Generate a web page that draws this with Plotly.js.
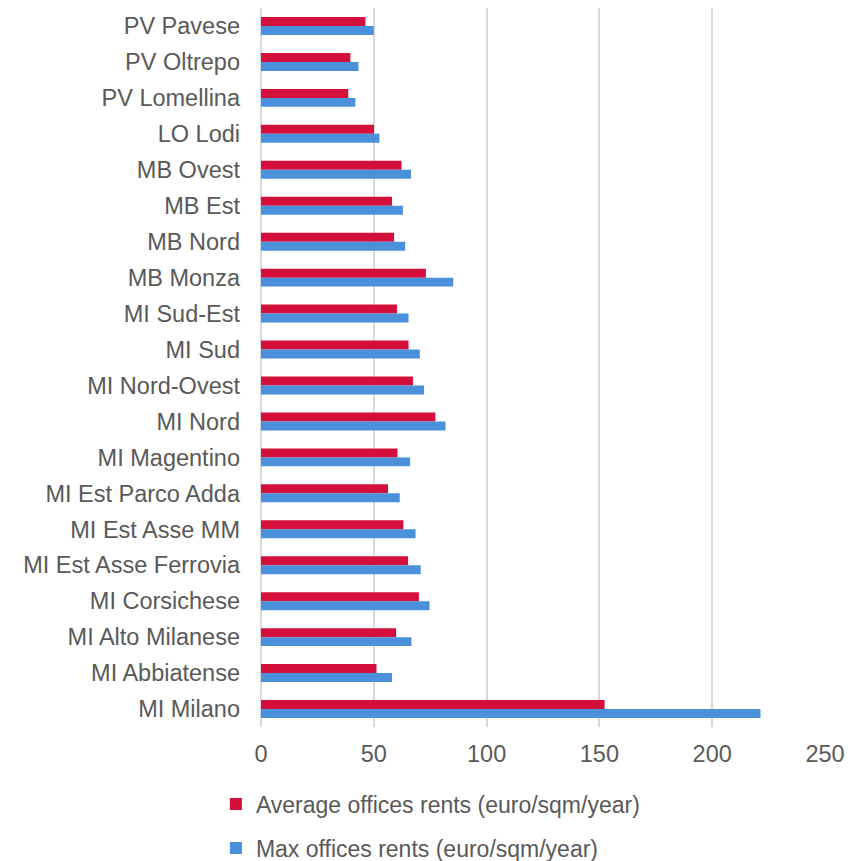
<!DOCTYPE html>
<html>
<head>
<meta charset="utf-8">
<script src="https://cdn.plot.ly/plotly-3.0.1.min.js"></script>
<style>html,body{margin:0;padding:0;background:#fff;}#chart{width:858px;height:861px;}</style>
</head>
<body>
<div id="chart"></div>
<script>
const categories = ["PV Pavese","PV Oltrepo","PV Lomellina","LO Lodi","MB Ovest","MB Est","MB Nord","MB Monza","MI Sud-Est","MI Sud","MI Nord-Ovest","MI Nord","MI Magentino","MI Est Parco Adda","MI Est Asse MM","MI Est Asse Ferrovia","MI Corsichese","MI Alto Milanese","MI Abbiatense","MI Milano"];
const avgRents = [46.3,39.6,38.7,50.1,62.3,58.1,59.0,73.1,60.3,65.4,67.4,77.3,60.5,56.3,63.1,65.2,70.0,59.9,51.2,152.3];
const maxRents = [50.0,43.2,41.8,52.5,66.5,62.9,63.9,85.2,65.4,70.4,72.3,81.8,66.1,61.5,68.5,70.8,74.7,66.7,58.1,221.4];
const seriesNames = ["Average offices rents (euro/sqm/year)","Max offices rents (euro/sqm/year)"];
const xTicks = [0,50,100,150,200,250];

const font = {family: "Liberation Sans, Arial, sans-serif", size: 23.5, color: "#595959"};
const legendFont = {family: "Liberation Sans, Arial, sans-serif", size: 23, color: "#595959"};
const data = [
  {type:"bar", orientation:"h", y:categories, x:avgRents, name:seriesNames[0], legendgroup:"a", marker:{color:"#D40F3C"}},
  {type:"bar", orientation:"h", y:categories, x:maxRents, name:seriesNames[1], legendgroup:"b", marker:{color:"#4A90DA"}}
];
const layout = {
  width:858, height:861,
  margin:{l:261, r:33, t:8, b:134, autoexpand:false},
  paper_bgcolor:"#fff", plot_bgcolor:"#fff",
  font: font,
  barmode:"group", bargap:0.5, bargroupgap:0,
  xaxis:{range:[0,250], tickvals:xTicks, showgrid:true, gridcolor:"#D9D9D9", gridwidth:2, zeroline:true, zerolinecolor:"#D9D9D9", zerolinewidth:2, ticks:"", ticklabelstandoff:10, fixedrange:true, automargin:false},
  yaxis:{autorange:"reversed", type:"category", showgrid:false, zeroline:false, ticks:"", ticklabelstandoff:20, fixedrange:true, automargin:false},
  showlegend:true,
  legend:{orientation:"v", x:-0.08, xanchor:"left", yref:"container", y:0.091, yanchor:"top", traceorder:"grouped", tracegroupgap:11, font:legendFont, itemwidth:30, bgcolor:"rgba(0,0,0,0)"}
};
Plotly.newPlot("chart", data, layout, {displayModeBar:false, staticPlot:true});
</script>
</body>
</html>
